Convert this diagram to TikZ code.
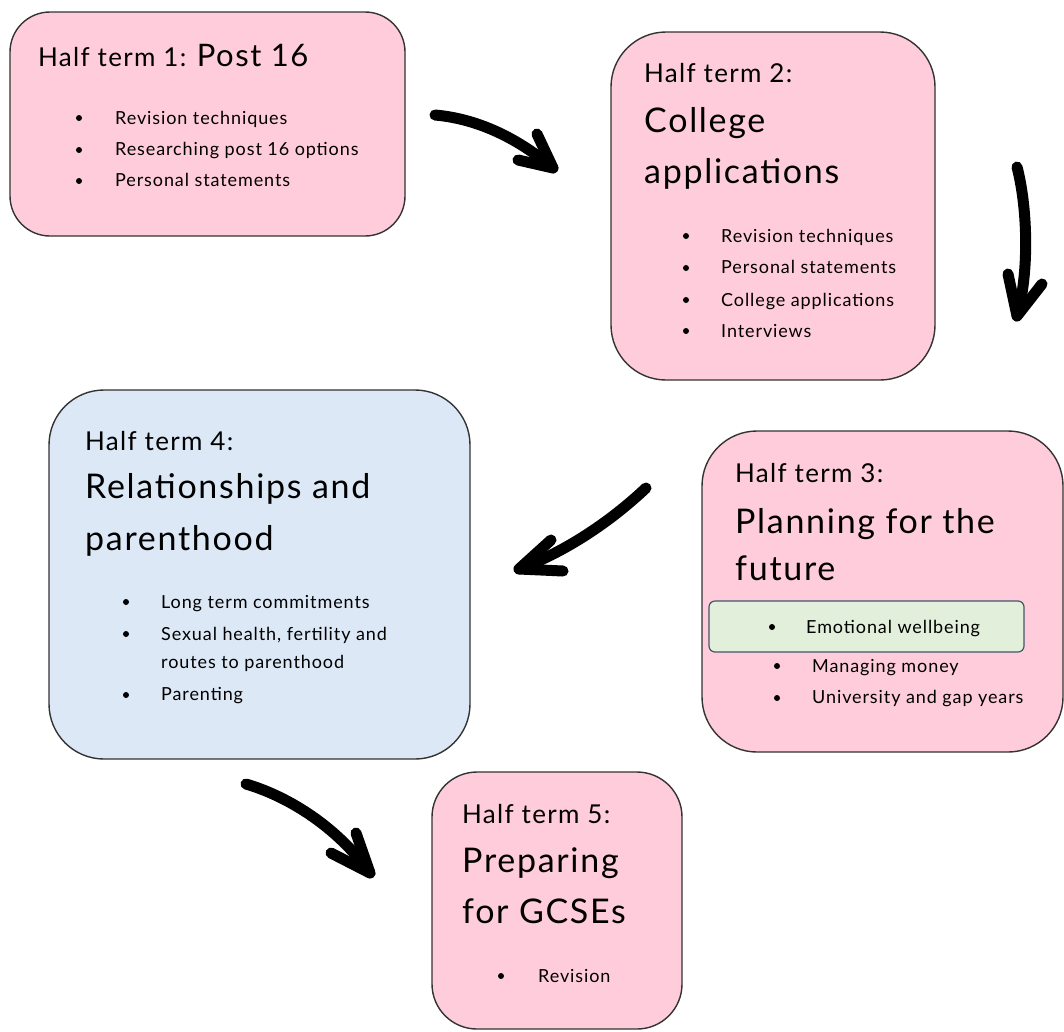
\documentclass[tikz,border=0pt]{standalone}
\usepackage{fontspec}
\setmainfont[LetterSpace=5]{Lato}
\definecolor{pinkfill}{HTML}{FFCCDB}
\definecolor{bluefill}{HTML}{DCE8F5}
\definecolor{greenfill}{HTML}{E2EFDA}
\definecolor{boxline}{HTML}{333333}
\definecolor{greenline}{HTML}{44546A}
\tikzset{
  termbox/.style={draw=boxline, line width=1.4pt, rounded corners=#1},
  termbox/.default=45pt,
  small/.style={anchor=base west, inner sep=0pt, font=\fontsize{26}{30}\selectfont},
  big/.style={anchor=base west, inner sep=0pt, font=\fontsize{34}{40}\selectfont},
  item/.style={anchor=base west, inner sep=0pt, font=\fontsize{18}{21}\selectfont},
  dot/.style={circle, fill=black, inner sep=0pt, minimum size=6pt},
  bigarrow/.style={line width=11pt, line cap=round, line join=round},
}
\begin{document}
\begin{tikzpicture}[x=1pt,y=-1pt]
\useasboundingbox (0,0) rectangle (1064,1031);
\clip (0,0) rectangle (1064,1031);

% boxes
\fill[white] (0,0) rectangle (1064,1031);
\draw[termbox=40pt, fill=pinkfill] (10,12) rectangle (405,236);
\node[inner sep=0pt] (b1) at (207.5,124) {};
\draw[termbox=55pt, fill=pinkfill] (611,32) rectangle (935,380);
\node[inner sep=0pt] (b2) at (773,206) {};
\draw[termbox=55pt, fill=pinkfill] (702,431) rectangle (1063,752);
\node[inner sep=0pt] (b3) at (882,591) {};
\draw[termbox=55pt, fill=bluefill] (49,390) rectangle (470,759);
\node[inner sep=0pt] (b4) at (259,574) {};
\draw[termbox=45pt, fill=pinkfill] (432,772) rectangle (682,1029);
\node[inner sep=0pt] (b5) at (557,900) {};
\draw[draw=greenline, line width=1.2pt, fill=greenfill, rounded corners=6pt] (709,601) rectangle (1024,652);

% Box 1
\node[small] (t1) at (38,66) {Half term 1: \fontsize{31}{36}\selectfont Post 16};
\node[dot] (d11) at (79,118) {};
\node[item] (i11) at (115,124) {Revision techniques};
\node[dot] (d12) at (79,150) {};
\node[item] (i12) at (115,155) {Researching post 16 options};
\node[dot] (d13) at (79,181) {};
\node[item] (i13) at (115,186) {Personal statements};

% Box 2
\node[small] (t2) at (644,82) {Half term 2:};
\node[big] (h2a) at (644,132) {College};
\node[big] (h2b) at (644,183) {applications};
\node[dot] (d21) at (686,236) {};
\node[item] (i21) at (721,242) {Revision techniques};
\node[dot] (d22) at (686,268) {};
\node[item] (i22) at (721,273) {Personal statements};
\node[dot] (d23) at (686,300) {};
\node[item] (i23) at (721,306) {College applications};
\node[dot] (d24) at (686,331) {};
\node[item] (i24) at (721,337) {Interviews};

% Box 3
\node[small] (t3) at (735,482) {Half term 3:};
\node[big] (h3a) at (735,533) {Planning for the};
\node[big] (h3b) at (735,580) {future};
\node[dot] (d31) at (772,627) {};
\node[item] (i31) at (806,633) {Emotional wellbeing};
\node[dot] (d32) at (777,666) {};
\node[item] (i32) at (812,672) {Managing money};
\node[dot] (d33) at (777,698) {};
\node[item] (i33) at (812,703) {University and gap years};

% Box 4
\node[small] (t4) at (85,450) {Half term 4:};
\node[big] (h4a) at (85,498) {Relationships and};
\node[big] (h4b) at (85,550) {parenthood};
\node[dot] (d41) at (126,602) {};
\node[item] (i41) at (161,608) {Long term commitments};
\node[dot] (d42) at (126,634) {};
\node[item] (i42) at (161,640) {Sexual health, fertility and};
\node[item] (i42b) at (161,668) {routes to parenthood};
\node[dot] (d43) at (126,695) {};
\node[item] (i43) at (161,700) {Parenting};

% Box 5
\node[small] (t5) at (462,823) {Half term 5:};
\node[big] (h5a) at (462,872) {Preparing};
\node[big] (h5b) at (462,923) {for GCSEs};
\node[dot] (d51) at (501,976) {};
\node[item] (i51) at (538,982) {Revision};

% arrows
\coordinate (a1s) at (435,115);
\coordinate (a1t) at (553,168);
\coordinate (a1l) at (537,134);
\coordinate (a1r) at (518,160);
\draw[bigarrow] (a1s) .. controls (480,119) and (520,140) .. (a1t);
\draw[bigarrow] (a1l) -- (a1t) -- (a1r);

\coordinate (a2s) at (1017,167);
\coordinate (a2t) at (1017,316);
\coordinate (a2l) at (1008,274);
\coordinate (a2r) at (1042,284);
\draw[bigarrow] (a2s) .. controls (1027,205) and (1030,270) .. (a2t);
\draw[bigarrow] (a2l) -- (a2t) -- (a2r);

\coordinate (a3s) at (646,488);
\coordinate (a3t) at (519,569);
\coordinate (a3l) at (551,540);
\coordinate (a3r) at (563,571);
\draw[bigarrow] (a3s) .. controls (610,522) and (565,552) .. (a3t);
\draw[bigarrow] (a3l) -- (a3t) -- (a3r);

\coordinate (a4s) at (246,784);
\coordinate (a4t) at (370,873);
\coordinate (a4l) at (356,833);
\coordinate (a4r) at (331,853);
\draw[bigarrow] (a4s) .. controls (290,797) and (338,828) .. (a4t);
\draw[bigarrow] (a4l) -- (a4t) -- (a4r);
\end{tikzpicture}
\end{document}
